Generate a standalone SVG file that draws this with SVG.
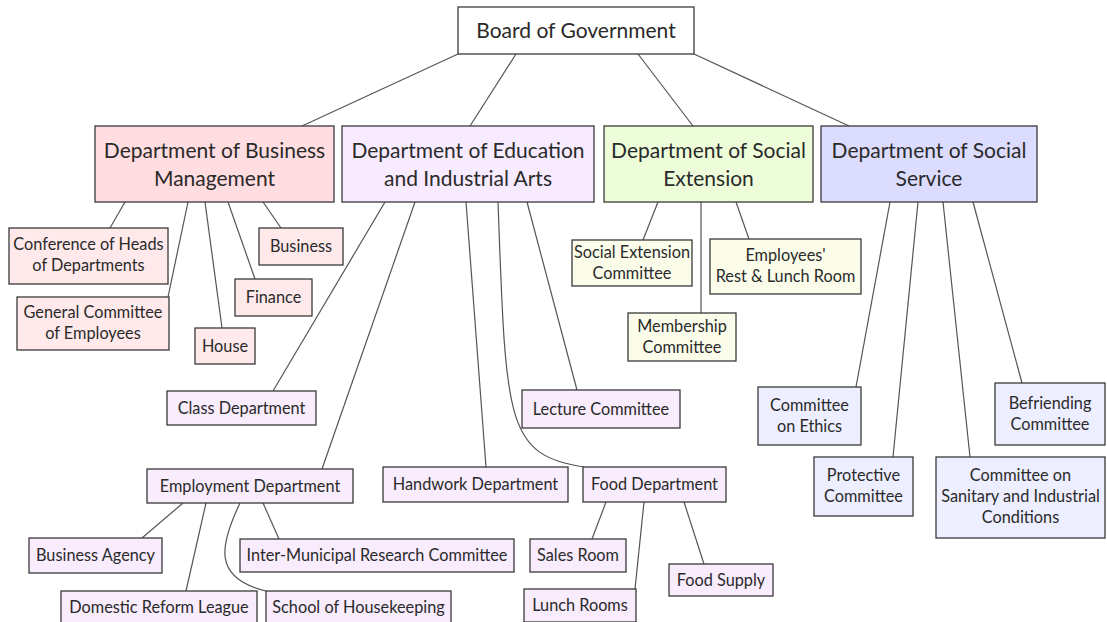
<svg xmlns="http://www.w3.org/2000/svg" width="1107" height="622" viewBox="0 0 1107 622">
<style>
rect{stroke:#3a3a3a;stroke-width:1.3}
text{font-family:Lato,"Open Sans",sans-serif;fill:#2a2a2a;text-anchor:middle}
.t0{font-size:21px}
.t1{font-size:16.3px}
.board{fill:#ffffff}
.bm{fill:#ffdde0}
.bmc{fill:#ffe9ea}
.ed{fill:#f8ebff}
.edc{fill:#f8ecfd}
.se{fill:#eefdd9}
.sec{fill:#fbfdea}
.ss{fill:#dcdcfe}
.ssc{fill:#edeeff}
#connectors path{fill:none;stroke:#555;stroke-width:1.2}
</style>
<rect width="1107" height="622" fill="#ffffff" style="stroke:none"/>
<g id="connectors">
<path d="M458,54 L302,126"/>
<path d="M516,54 L470,126"/>
<path d="M638,54 L693,126"/>
<path d="M694,54 L849,126"/>
<path d="M125,202 L110,228"/>
<path d="M188,202 L168,297"/>
<path d="M205,202 L222,328"/>
<path d="M228,202 L255,279"/>
<path d="M263,202 L281,228"/>
<path d="M385,202 L273,391"/>
<path d="M415,202 L322,469"/>
<path d="M466,202 L486,467"/>
<path d="M498,202 C506,420 505,455 584,467"/>
<path d="M527,202 L577,390"/>
<path d="M658,202 L643,240"/>
<path d="M701,202 L701,313"/>
<path d="M736,202 L749,239"/>
<path d="M890,202 L856,387"/>
<path d="M918,202 L893,457"/>
<path d="M943,202 L970,457"/>
<path d="M973,202 L1022,383"/>
<path d="M183,503 L142,538"/>
<path d="M206,503 L186,591"/>
<path d="M240,503 C220,545 212,578 266,591"/>
<path d="M263,503 L279,539"/>
<path d="M606,502 L592,539"/>
<path d="M644,502 L635,589"/>
<path d="M684,502 L704,564"/>
</g>
<g id="board"><rect class="board" x="458" y="7" width="236" height="47"/><text class="t0" x="576" y="38">Board of Government</text></g>
<g id="dept-business"><rect class="bm" x="95" y="126" width="239" height="76"/><text class="t0" x="214.5" y="158">Department of Business</text><text class="t0" x="214.5" y="186">Management</text></g>
<g id="dept-education"><rect class="ed" x="342" y="126" width="252" height="76"/><text class="t0" x="468" y="158">Department of Education</text><text class="t0" x="468" y="186">and Industrial Arts</text></g>
<g id="dept-extension"><rect class="se" x="604" y="126" width="209" height="76"/><text class="t0" x="708.5" y="158">Department of Social</text><text class="t0" x="708.5" y="186">Extension</text></g>
<g id="dept-service"><rect class="ss" x="821" y="126" width="216" height="76"/><text class="t0" x="929" y="158">Department of Social</text><text class="t0" x="929" y="186">Service</text></g>
<g id="conference"><rect class="bmc" x="9" y="228" width="159" height="56"/><text class="t1" x="88.5" y="250">Conference of Heads</text><text class="t1" x="88.5" y="271">of Departments</text></g>
<g id="general-committee"><rect class="bmc" x="17" y="297" width="152" height="53"/><text class="t1" x="93" y="318">General Committee</text><text class="t1" x="93" y="339">of Employees</text></g>
<g id="house"><rect class="bmc" x="195" y="328" width="60" height="36"/><text class="t1" x="225" y="351.5">House</text></g>
<g id="finance"><rect class="bmc" x="235" y="279" width="77" height="37"/><text class="t1" x="273.5" y="303">Finance</text></g>
<g id="business"><rect class="bmc" x="259" y="228" width="84" height="37"/><text class="t1" x="301" y="252">Business</text></g>
<g id="class-dept"><rect class="edc" x="167" y="391" width="149" height="34"/><text class="t1" x="241.5" y="413.5">Class Department</text></g>
<g id="employment-dept"><rect class="edc" x="147" y="469" width="206" height="34"/><text class="t1" x="250" y="491.5">Employment Department</text></g>
<g id="handwork-dept"><rect class="edc" x="383" y="467" width="185" height="35"/><text class="t1" x="475.5" y="490">Handwork Department</text></g>
<g id="lecture-committee"><rect class="edc" x="522" y="390" width="158" height="38"/><text class="t1" x="601" y="414.5">Lecture Committee</text></g>
<g id="food-dept"><rect class="edc" x="583" y="467" width="143" height="35"/><text class="t1" x="654.5" y="490">Food Department</text></g>
<g id="business-agency"><rect class="edc" x="29" y="538" width="133" height="35"/><text class="t1" x="95.5" y="561">Business Agency</text></g>
<g id="inter-municipal"><rect class="edc" x="240" y="539" width="274" height="33"/><text class="t1" x="377" y="561">Inter-Municipal Research Committee</text></g>
<g id="domestic-reform"><rect class="edc" x="61" y="591" width="196" height="33"/><text class="t1" x="159" y="613">Domestic Reform League</text></g>
<g id="housekeeping"><rect class="edc" x="266" y="591" width="185" height="33"/><text class="t1" x="358.5" y="613">School of Housekeeping</text></g>
<g id="sales-room"><rect class="edc" x="530" y="539" width="96" height="33"/><text class="t1" x="578" y="561">Sales Room</text></g>
<g id="lunch-rooms"><rect class="edc" x="524" y="589" width="112" height="33"/><text class="t1" x="580" y="610.5">Lunch Rooms</text></g>
<g id="food-supply"><rect class="edc" x="669" y="564" width="104" height="32"/><text class="t1" x="721" y="585.5">Food Supply</text></g>
<g id="social-extension-committee"><rect class="sec" x="572" y="240" width="120" height="46"/><text class="t1" x="632" y="258">Social Extension</text><text class="t1" x="632" y="279">Committee</text></g>
<g id="employees-rest"><rect class="sec" x="710" y="239" width="151" height="55"/><text class="t1" x="785.5" y="261">Employees'</text><text class="t1" x="785.5" y="282">Rest &amp; Lunch Room</text></g>
<g id="membership"><rect class="sec" x="628" y="313" width="108" height="48"/><text class="t1" x="682" y="331.5">Membership</text><text class="t1" x="682" y="352.5">Committee</text></g>
<g id="ethics"><rect class="ssc" x="758" y="387" width="103" height="58"/><text class="t1" x="809.5" y="410.5">Committee</text><text class="t1" x="809.5" y="431.5">on Ethics</text></g>
<g id="protective"><rect class="ssc" x="814" y="457" width="99" height="59"/><text class="t1" x="863.5" y="481">Protective</text><text class="t1" x="863.5" y="502">Committee</text></g>
<g id="sanitary"><rect class="ssc" x="936" y="457" width="169" height="81"/><text class="t1" x="1020.5" y="481">Committee on</text><text class="t1" x="1020.5" y="502">Sanitary and Industrial</text><text class="t1" x="1020.5" y="523">Conditions</text></g>
<g id="befriending"><rect class="ssc" x="995" y="383" width="110" height="62"/><text class="t1" x="1050" y="409">Befriending</text><text class="t1" x="1050" y="430">Committee</text></g>
</svg>
